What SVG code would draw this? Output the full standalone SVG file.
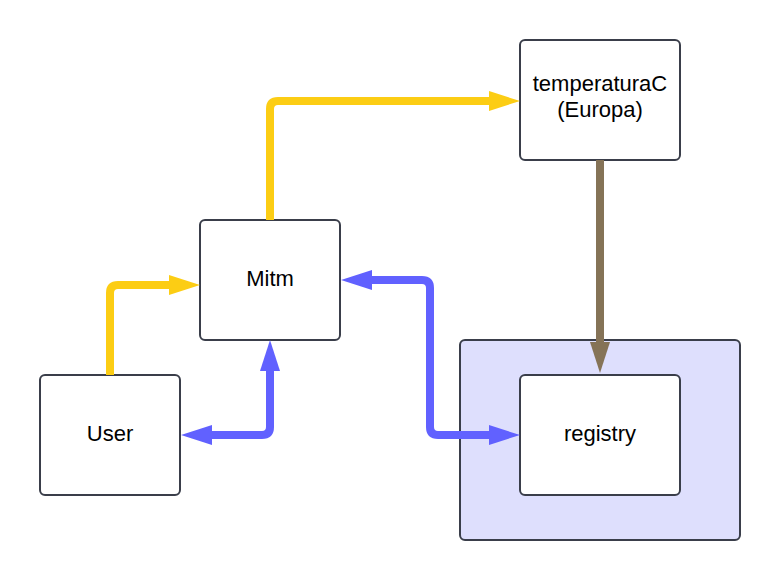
<svg xmlns="http://www.w3.org/2000/svg" width="780" height="580" viewBox="0 0 780 580">
<style>
.box{fill:#ffffff;stroke:#3a3e4a;stroke-width:2}
.grp{fill:#dedffd;stroke:#3a3e4a;stroke-width:2}
.lbl{font-family:"Liberation Sans",Arial,sans-serif;font-size:22px;fill:#000;text-anchor:middle}
.c{fill:none;stroke-width:8;stroke-linejoin:round}
.y{stroke:#fccd14}
.b{stroke:#6161ff}
.br{stroke:#857357}
</style>
<defs>
<marker id="ay" markerUnits="userSpaceOnUse" markerWidth="31" markerHeight="20" refX="0" refY="10" orient="auto-start-reverse"><path d="M0,0 L31,10 L0,20 z" fill="#fccd14"/></marker>
<marker id="ab" markerUnits="userSpaceOnUse" markerWidth="31" markerHeight="20" refX="0" refY="10" orient="auto-start-reverse"><path d="M0,0 L31,10 L0,20 z" fill="#6161ff"/></marker>
<marker id="abr" markerUnits="userSpaceOnUse" markerWidth="31" markerHeight="20" refX="0" refY="10" orient="auto-start-reverse"><path d="M0,0 L31,10 L0,20 z" fill="#857357"/></marker>
</defs>
<rect width="780" height="580" fill="#ffffff"/>
<g id="container">
<rect class="grp" x="460" y="340" width="280" height="200" rx="5"/>
</g>
<g id="user">
<rect class="box" x="40" y="375" width="140" height="120" rx="5"/>
<text class="lbl" x="110" y="441">User</text>
</g>
<g id="mitm">
<rect class="box" x="200" y="220" width="140" height="120" rx="5"/>
<text class="lbl" x="270" y="286">Mitm</text>
</g>
<g id="temperaturaC">
<rect class="box" x="520" y="40" width="160" height="120" rx="5"/>
<text class="lbl" x="600" y="91">temperaturaC</text>
<text class="lbl" x="600" y="117">(Europa)</text>
</g>
<g id="registry">
<rect class="box" x="520" y="375" width="160" height="120" rx="5"/>
<text class="lbl" x="600" y="441">registry</text>
</g>
<g id="connectors">
<path class="c y" d="M110,375 V293 Q110,285 118,285 H169" marker-end="url(#ay)"/>
<path class="c y" d="M270,220 V109 Q270,101 278,101 H489" marker-end="url(#ay)"/>
<path class="c br" d="M600,160 V342" marker-end="url(#abr)"/>
<path class="c b" d="M212,435 H262 Q270,435 270,427 V371" marker-start="url(#ab)" marker-end="url(#ab)"/>
<path class="c b" d="M372,280 H422 Q430,280 430,288 V427 Q430,435 438,435 H489" marker-start="url(#ab)" marker-end="url(#ab)"/>
</g>
</svg>
